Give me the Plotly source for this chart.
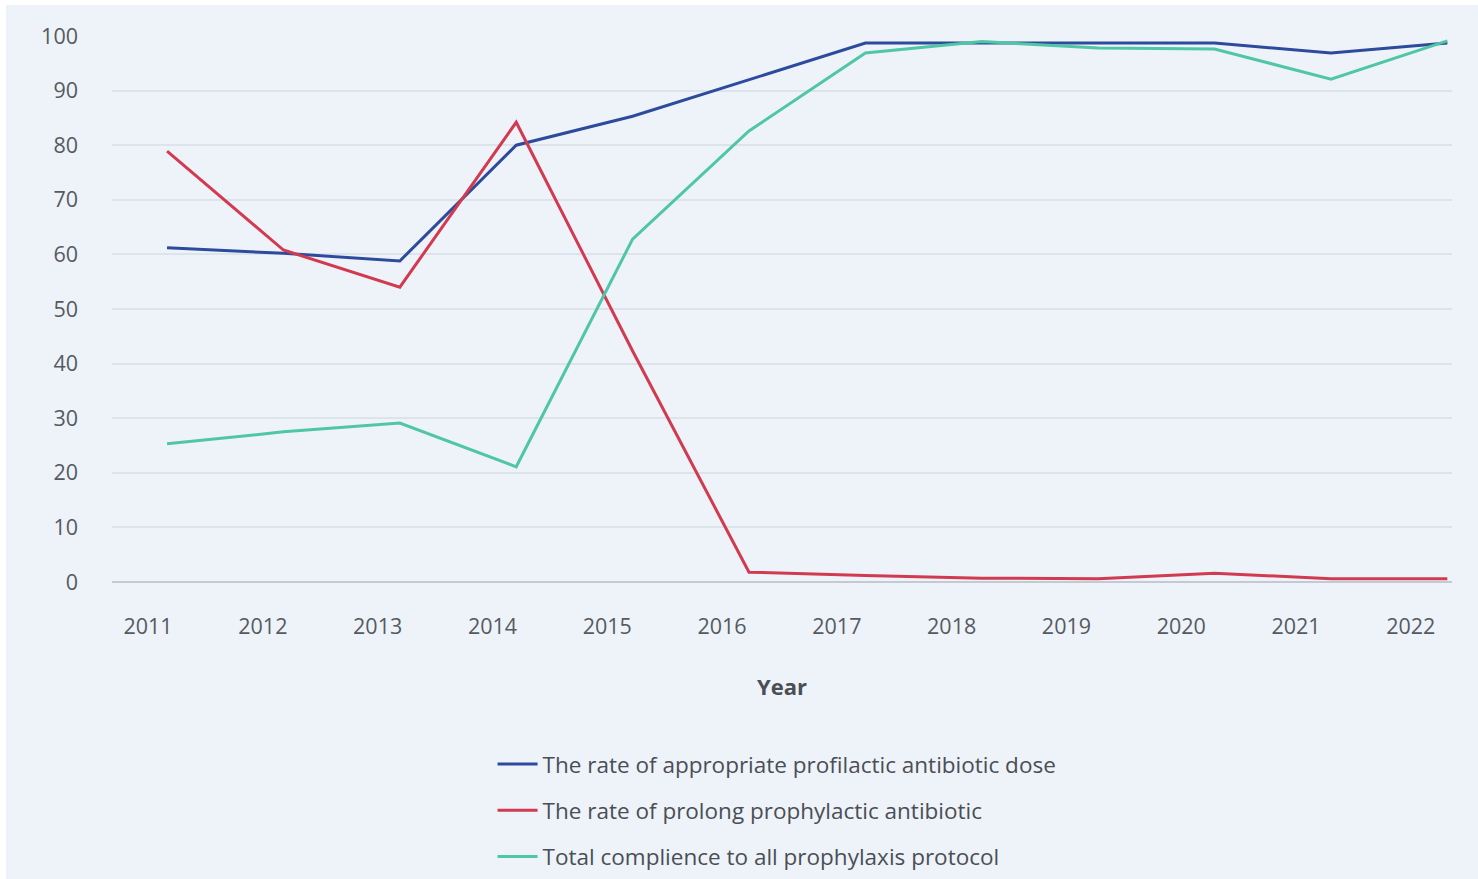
import plotly.graph_objects as go

# Yearly rates (%) for the prophylaxis indicators
years = [2011, 2012, 2013, 2014, 2015, 2016, 2017, 2018, 2019, 2020, 2021, 2022]
appropriate_dose = [61.2, 60.2, 58.8, 80.0, 85.3, 92.0, 98.7, 98.7, 98.7, 98.7, 96.9, 98.7]
prolonged_use = [78.9, 60.8, 54.0, 84.2, 42.3, 1.8, 1.2, 0.7, 0.6, 1.6, 0.6, 0.6]
total_compliance = [25.3, 27.5, 29.1, 21.1, 62.8, 82.6, 96.9, 99.0, 97.8, 97.6, 92.1, 99.1]

series_names = [
    "The rate of appropriate profilactic antibiotic dose",
    "The rate of prolong prophylactic antibiotic",
    "Total complience to all prophylaxis protocol",
]
series_colors = ["#2d4b9c", "#d23a50", "#4fc6a4"]

y_ticks = [0, 10, 20, 30, 40, 50, 60, 70, 80, 90, 100]

BG = "#eef3f9"
TEXT = "#555a61"

fig = go.Figure()
for name, values, color in zip(series_names,
                               [appropriate_dose, prolonged_use, total_compliance],
                               series_colors):
    fig.add_trace(go.Scatter(
        x=years, y=values, name=name, mode="lines",
        line=dict(color=color, width=3),
        legendgroup=name, cliponaxis=False,
    ))

# year labels sit slightly left of the data points, on a marginally tighter pitch
label_pos = [years[0] - 0.163 + 0.9863 * i for i in range(len(years))]

fig.update_layout(
    width=1478, height=879,
    margin=dict(l=112, r=26, t=36, b=297),
    paper_bgcolor="white",
    plot_bgcolor="rgba(0,0,0,0)",
    font=dict(family="Open Sans, Noto Sans, sans-serif", color=TEXT, size=21),
    showlegend=True,
    legend=dict(
        orientation="v", x=0.284, xanchor="left",
        yref="container", y=0.155, yanchor="top",
        font=dict(size=22.5, color="#4a4e55"), bgcolor="rgba(0,0,0,0)",
        tracegroupgap=14, itemwidth=40,
    ),
    shapes=[dict(
        type="rect", xref="paper", yref="paper", layer="below",
        x0=-0.0791, x1=1.03, y0=-0.56, y1=1.0568,
        fillcolor=BG, line=dict(width=0),
    )],
)

fig.update_xaxes(
    range=[2010.527, 2022.04],
    tickmode="array",
    tickvals=label_pos,
    ticktext=[str(y) for y in years],
    showgrid=False, zeroline=False, showline=False,
    ticks="", ticklabelstandoff=29,
    tickfont=dict(size=21.5, color=TEXT),
    title=dict(text="<b>Year</b>", font=dict(size=22, color="#4a4e55"), standoff=41),
)

fig.update_yaxes(
    range=[0, 100],
    tickmode="array", tickvals=y_ticks,
    showgrid=True, gridcolor="#dde3eb", gridwidth=2,
    zeroline=True, zerolinecolor="#c5c9d0", zerolinewidth=2,
    showline=False, ticks="", ticklabelstandoff=33,
    tickfont=dict(size=21.5, color=TEXT),
)

fig.write_html("out.html")
